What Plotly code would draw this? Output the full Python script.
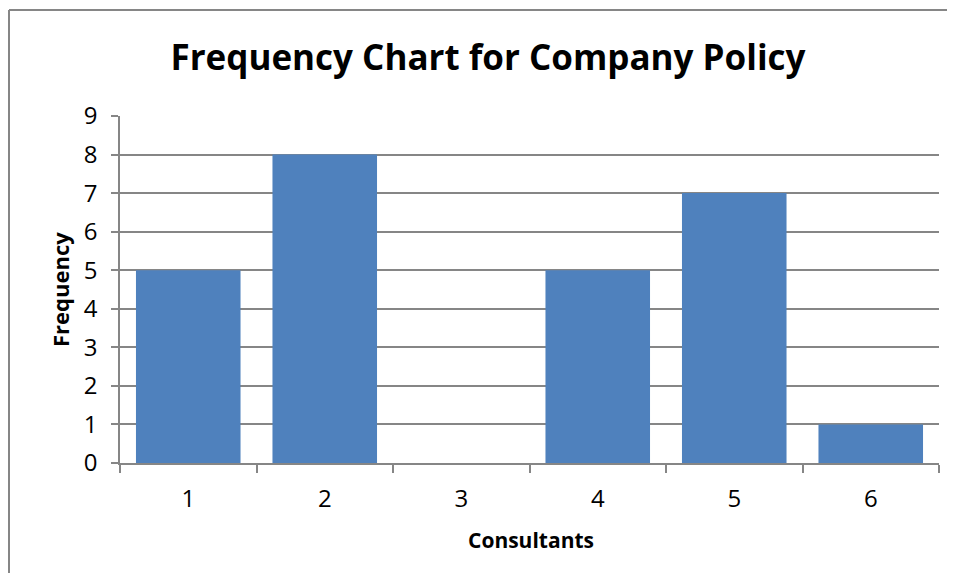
import plotly.graph_objects as go

categories = ["1", "2", "3", "4", "5", "6"]
frequency = [5, 8, 0, 5, 7, 1]
y_ticks = list(range(0, 10))

OFF = 8  # default page body margin
W, H = 955 - 2 * OFF, 581 - 2 * OFF
L, R, T, B = 120 - OFF, 939 - OFF, 116 - OFF, 463 - OFF

def px_x(px):
    return (px - OFF - L) / (R - L)

def px_y(py):
    return (B - (py - OFF)) / (B - T)

FONT = "Open Sans, Lato, sans-serif"
GRID = "#868686"

fig = go.Figure(go.Bar(
    x=categories, y=frequency,
    marker=dict(color="#4F81BD", line=dict(width=0)),
))

fig.update_layout(
    width=W, height=H,
    margin=dict(l=L, r=W - R, t=T, b=H - B, pad=0),
    paper_bgcolor="white", plot_bgcolor="white",
    showlegend=False,
    bargap=0.234,
    font=dict(family=FONT, color="black", size=22),
    title=dict(text="<b>Frequency Chart for Company Policy</b>",
               font=dict(size=35, family=FONT, color="black"),
               x=(488 - OFF) / W, xref="container", xanchor="center",
               y=1 - (58 - OFF) / H, yref="container", yanchor="middle"),
    xaxis=dict(type="category", tickson="boundaries", ticks="outside", ticklen=8,
               tickcolor=GRID, tickwidth=1.5, showgrid=False,
               showline=True, linecolor=GRID, linewidth=1.5,
               tickfont=dict(size=24), ticklabelstandoff=13, range=[-0.5, 5.5]),
    yaxis=dict(range=[0, 9], tickvals=y_ticks, ticks="outside", ticklen=7,
               tickcolor=GRID, tickwidth=1.5,
               showgrid=True, gridcolor=GRID, gridwidth=1.5,
               showline=True, linecolor=GRID, linewidth=1.5,
               zeroline=False, tickfont=dict(size=24), ticklabelstandoff=9),
    annotations=[
        dict(text="<b>Consultants</b>", xref="paper", yref="paper",
             x=px_x(531), y=px_y(540), xanchor="center", yanchor="middle",
             showarrow=False, font=dict(size=21, family=FONT)),
        dict(text="<b>Frequency</b>", xref="paper", yref="paper",
             x=px_x(60), y=px_y(290), xanchor="center", yanchor="middle",
             textangle=-90, showarrow=False, font=dict(size=22, family=FONT)),
    ],
    shapes=[
        dict(type="line", xref="paper", yref="paper",
             x0=px_x(9), x1=px_x(9), y0=px_y(10), y1=px_y(700),
             line=dict(color=GRID, width=2), layer="below"),
        dict(type="line", xref="paper", yref="paper",
             x0=px_x(9), x1=px_x(1100), y0=px_y(10), y1=px_y(10),
             line=dict(color=GRID, width=2), layer="below"),
    ],
)

fig.write_html("out.html")
